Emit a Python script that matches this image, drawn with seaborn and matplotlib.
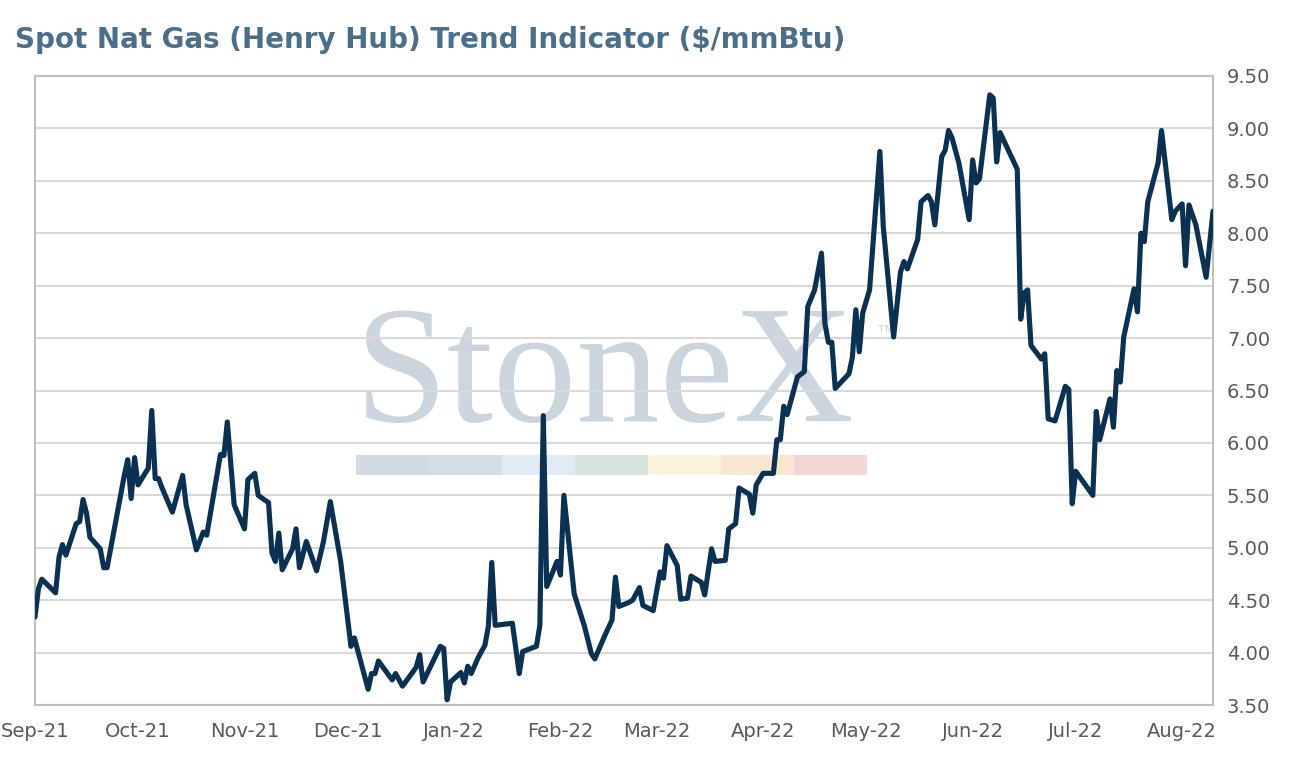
import pandas as pd
import matplotlib
matplotlib.use("Agg")
import matplotlib.pyplot as plt
import matplotlib.dates as mdates
from matplotlib.patches import Rectangle
import seaborn as sns

# Spot Henry Hub price ($/mmBtu)
dates = [
    "2021-09-01", "2021-09-02", "2021-09-03", "2021-09-07", "2021-09-08", "2021-09-09",
    "2021-09-10", "2021-09-13", "2021-09-14", "2021-09-15", "2021-09-16", "2021-09-17",
    "2021-09-20", "2021-09-21", "2021-09-22", "2021-09-27", "2021-09-28", "2021-09-29",
    "2021-09-30", "2021-10-01", "2021-10-04", "2021-10-05", "2021-10-06", "2021-10-07",
    "2021-10-08", "2021-10-11", "2021-10-14", "2021-10-15", "2021-10-18", "2021-10-20",
    "2021-10-21", "2021-10-25", "2021-10-26", "2021-10-27", "2021-10-29", "2021-11-01",
    "2021-11-02", "2021-11-04", "2021-11-05", "2021-11-08", "2021-11-09", "2021-11-10",
    "2021-11-11", "2021-11-12", "2021-11-15", "2021-11-16", "2021-11-17", "2021-11-19",
    "2021-11-22", "2021-11-24", "2021-11-26", "2021-11-29", "2021-12-02", "2021-12-03",
    "2021-12-07", "2021-12-08", "2021-12-09", "2021-12-10", "2021-12-14", "2021-12-15",
    "2021-12-17", "2021-12-21", "2021-12-22", "2021-12-23", "2021-12-28", "2021-12-29",
    "2021-12-30", "2021-12-31", "2022-01-03", "2022-01-04", "2022-01-05", "2022-01-06",
    "2022-01-08", "2022-01-10", "2022-01-11", "2022-01-12", "2022-01-13", "2022-01-18",
    "2022-01-20", "2022-01-21", "2022-01-25", "2022-01-26", "2022-01-27", "2022-01-28",
    "2022-01-31", "2022-02-01", "2022-02-02", "2022-02-05", "2022-02-08", "2022-02-10",
    "2022-02-11", "2022-02-14", "2022-02-16", "2022-02-17", "2022-02-18", "2022-02-21",
    "2022-02-22", "2022-02-24", "2022-02-25", "2022-02-28", "2022-03-02", "2022-03-03",
    "2022-03-04", "2022-03-07", "2022-03-08", "2022-03-10", "2022-03-11", "2022-03-14",
    "2022-03-15", "2022-03-17", "2022-03-18", "2022-03-21", "2022-03-22", "2022-03-24",
    "2022-03-25", "2022-03-28", "2022-03-29", "2022-03-30", "2022-04-01", "2022-04-04",
    "2022-04-05", "2022-04-06", "2022-04-07", "2022-04-08", "2022-04-11", "2022-04-13",
    "2022-04-14", "2022-04-16", "2022-04-18", "2022-04-19", "2022-04-20", "2022-04-21",
    "2022-04-22", "2022-04-26", "2022-04-27", "2022-04-28", "2022-04-29", "2022-04-30",
    "2022-05-02", "2022-05-05", "2022-05-06", "2022-05-09", "2022-05-11", "2022-05-12",
    "2022-05-13", "2022-05-16", "2022-05-17", "2022-05-19", "2022-05-20", "2022-05-21",
    "2022-05-23", "2022-05-24", "2022-05-25", "2022-05-26", "2022-05-28", "2022-05-31",
    "2022-06-01", "2022-06-02", "2022-06-03", "2022-06-06", "2022-06-07", "2022-06-08",
    "2022-06-09", "2022-06-11", "2022-06-14", "2022-06-15", "2022-06-16", "2022-06-17",
    "2022-06-18", "2022-06-21", "2022-06-22", "2022-06-23", "2022-06-25", "2022-06-28",
    "2022-06-29", "2022-06-30", "2022-07-01", "2022-07-06", "2022-07-07", "2022-07-08",
    "2022-07-11", "2022-07-12", "2022-07-13", "2022-07-14", "2022-07-15", "2022-07-18",
    "2022-07-19", "2022-07-20", "2022-07-21", "2022-07-22", "2022-07-25", "2022-07-26",
    "2022-07-29", "2022-07-30", "2022-08-01", "2022-08-02", "2022-08-03", "2022-08-05",
    "2022-08-08", "2022-08-10",
]
prices = [
    4.34, 4.61, 4.70, 4.57, 4.91, 5.03,
    4.93, 5.23, 5.25, 5.46, 5.33, 5.10,
    4.99, 4.81, 4.81, 5.69, 5.84, 5.47,
    5.86, 5.60, 5.76, 6.31, 5.66, 5.66,
    5.57, 5.34, 5.69, 5.41, 4.98, 5.15,
    5.12, 5.89, 5.88, 6.20, 5.41, 5.18,
    5.65, 5.71, 5.50, 5.43, 4.95, 4.87,
    5.14, 4.79, 4.99, 5.18, 4.81, 5.06,
    4.78, 5.06, 5.44, 4.87, 4.06, 4.14,
    3.65, 3.80, 3.80, 3.92, 3.74, 3.80,
    3.68, 3.86, 3.98, 3.72, 4.06, 4.04,
    3.55, 3.72, 3.81, 3.71, 3.87, 3.80,
    3.95, 4.07, 4.25, 4.86, 4.26, 4.28,
    3.80, 4.01, 4.06, 4.26, 6.26, 4.63,
    4.87, 4.74, 5.50, 4.56, 4.25, 3.99,
    3.94, 4.17, 4.31, 4.72, 4.44, 4.48,
    4.50, 4.62, 4.45, 4.40, 4.77, 4.71,
    5.02, 4.83, 4.51, 4.52, 4.73, 4.67,
    4.55, 4.99, 4.87, 4.88, 5.18, 5.23,
    5.57, 5.51, 5.33, 5.60, 5.71, 5.71,
    6.03, 6.03, 6.35, 6.27, 6.63, 6.68,
    7.30, 7.46, 7.81, 7.14, 6.96, 6.96,
    6.52, 6.66, 6.82, 7.27, 6.87, 7.24,
    7.46, 8.78, 8.06, 7.01, 7.63, 7.73,
    7.66, 7.94, 8.30, 8.36, 8.30, 8.08,
    8.73, 8.79, 8.98, 8.91, 8.67, 8.13,
    8.70, 8.48, 8.52, 9.32, 9.29, 8.68,
    8.96, 8.82, 8.61, 7.18, 7.43, 7.46,
    6.93, 6.80, 6.85, 6.23, 6.21, 6.54,
    6.51, 5.42, 5.73, 5.50, 6.30, 6.03,
    6.42, 6.15, 6.69, 6.58, 7.01, 7.47,
    7.25, 8.00, 7.92, 8.30, 8.67, 8.98,
    8.13, 8.21, 8.28, 7.69, 8.27, 8.08,
    7.58, 8.21,
]
y_ticks = [3.5, 4.0, 4.5, 5.0, 5.5, 6.0, 6.5, 7.0, 7.5, 8.0, 8.5, 9.0, 9.5]
x_start, x_end = "2021-09-01", "2022-08-10"
title = "Spot Nat Gas (Henry Hub) Trend Indicator ($/mmBtu)"

# watermark colour strip
strip_colors = ["#d3d9e1", "#d4dee9", "#e0ebf4", "#d6e4dd", "#f8f5dc", "#f9e6d0", "#f1d5d7"]

df = pd.DataFrame({"date": pd.to_datetime(dates), "price": prices})

sns.set_style("white")
plt.rcParams["font.family"] = ["DejaVu Sans"]

fig = plt.figure(figsize=(12.91, 7.66), dpi=100)
ax = fig.add_axes([0.0271, 0.0796, 0.9125, 0.8212])

# StoneX watermark behind the grid
ax.text(0.484, 0.452, "StoneX", transform=ax.transAxes, ha="center", va="baseline",
        fontsize=120, family="Liberation Serif", color="#ccd4de", zorder=0.1)
ax.text(0.716, 0.596, "TM", transform=ax.transAxes, ha="left", va="center",
        fontsize=8, color="#ccd4de", zorder=0.1)
seg_w = 0.062
for i, c in enumerate(strip_colors):
    ax.add_patch(Rectangle((0.2725 + i * seg_w, 0.3657), seg_w, 0.0318,
                           transform=ax.transAxes, color=c, lw=0, zorder=0.1))

sns.lineplot(data=df, x="date", y="price", ax=ax, color="#0b3152", linewidth=3.7,
             estimator=None, zorder=3)

ax.set_xlim(pd.Timestamp(x_start), pd.Timestamp(x_end))
ax.set_ylim(y_ticks[0], y_ticks[-1])
ax.set_yticks(y_ticks)
ax.yaxis.set_major_formatter(plt.FormatStrFormatter("%.2f"))
ax.yaxis.tick_right()
ax.xaxis.set_major_locator(mdates.MonthLocator())
ax.xaxis.set_major_formatter(mdates.DateFormatter("%b-%y"))

ax.grid(axis="y", color="#d9d9d9", linewidth=1.5, zorder=0.5)
ax.set_axisbelow(True)
ax.tick_params(axis="both", length=0, labelsize=14, labelcolor="#595959")
ax.tick_params(axis="x", pad=12)
ax.tick_params(axis="y", pad=10)
for s in ax.spines.values():
    s.set_color("#bfbfbf")
    s.set_linewidth(1.5)
ax.set_xlabel("")
ax.set_ylabel("")

fig.text(0.0116, 0.937, title, fontsize=20, fontweight="bold", color="#4b6f8a",
         ha="left", va="baseline")

fig.savefig("out.png", dpi=100)
